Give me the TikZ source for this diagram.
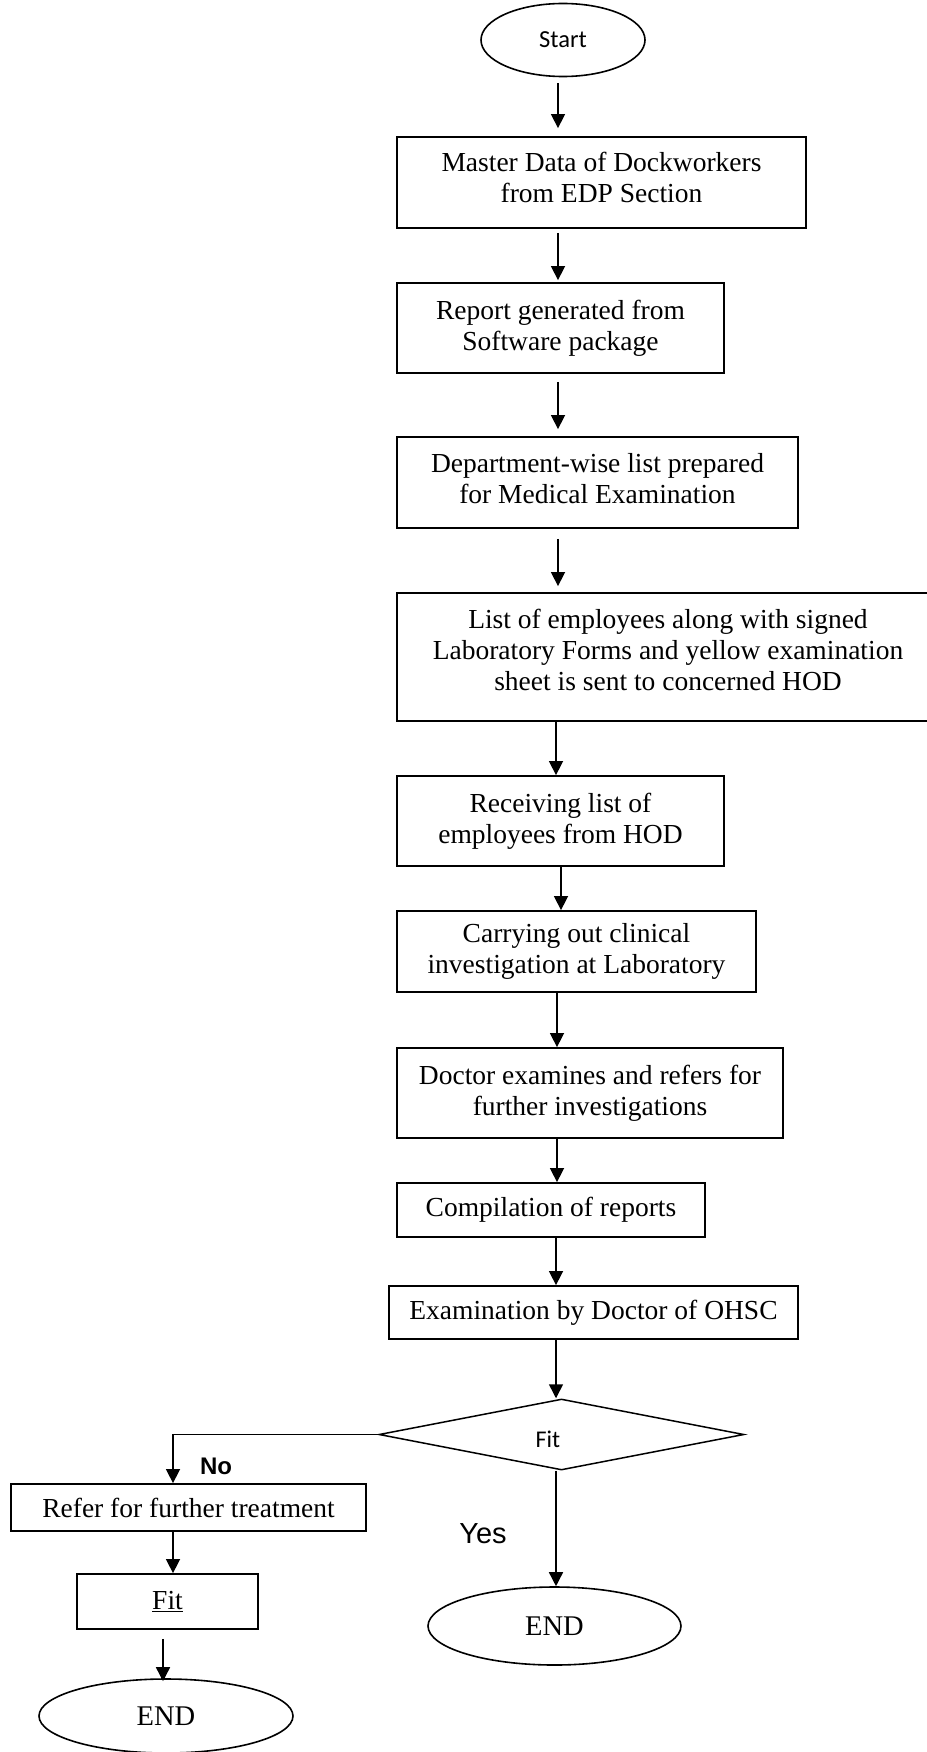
\documentclass[tikz,border=0pt]{standalone}
\usepackage{fontspec}
\usetikzlibrary{shapes.geometric,arrows.meta}
\newfontfamily\calibfont{Carlito}
\newfontfamily\arialfont{Liberation Sans}
\newfontfamily\boxfont{Liberation Serif}
\begin{document}
\begin{tikzpicture}[x=1pt,y=-1pt,
  stepbox/.style={draw, rectangle, line width=1.8pt, inner sep=0pt, align=center,
    font=\boxfont\fontsize{27.5}{31}\selectfont},
  term/.style={draw, ellipse, line width=1.6pt, inner sep=0pt},
  arr/.style={-{Triangle[length=14pt,width=14pt]}, line width=1.5pt},
  lbl/.style={inner sep=0pt}]
\useasboundingbox (0,0) rectangle (926,1752);

% helper columns for the connectors
\coordinate (col) at (558,0);
\coordinate (lc1) at (173,0);
\coordinate (lc2) at (163,0);

% terminals
\node[term, minimum width=164pt, minimum height=73pt, font=\calibfont\fontsize{24.5}{28}\selectfont] (start) at (563,40) {Start};

% process boxes
\node[stepbox, minimum width=409pt, minimum height=91pt, text depth=10pt] (b1) at (601.5,182.5) {Master Data of Dockworkers\\from EDP Section};
\node[stepbox, minimum width=327pt, minimum height=90pt] (b2) at (560.5,328) {Report generated from\\Software package};
\node[stepbox, minimum width=401pt, minimum height=91pt, text depth=8pt] (b3) at (597.5,482.5) {Department-wise list prepared\\for Medical Examination};
\node[stepbox, minimum width=542pt, minimum height=128pt, text depth=14pt] (b4) at (668,657) {List of employees along with signed\\Laboratory Forms and yellow examination\\sheet is sent to concerned HOD};
\node[stepbox, minimum width=327pt, minimum height=90pt] (b5) at (560.5,821) {Receiving list of\\employees from HOD};
\node[stepbox, minimum width=359pt, minimum height=81pt] (b6) at (576.5,951.5) {Carrying out clinical\\investigation at Laboratory};
\node[stepbox, minimum width=386pt, minimum height=90pt] (b7) at (590,1093) {Doctor examines and refers for\\further investigations};
\node[stepbox, minimum width=308pt, minimum height=54pt] (b8) at (551,1210) {Compilation of reports};
\node[stepbox, minimum width=409pt, minimum height=53pt] (b9) at (593.5,1312.5) {Examination by Doctor of OHSC};

% decision
\node[draw, diamond, line width=1.5pt, minimum width=365pt, minimum height=71pt, inner sep=0pt] (dec) at (561.5,1434.5) {};
\node[lbl, font=\calibfont\fontsize{24}{28}\selectfont] (dectext) at (548,1439) {Fit};

% outcomes
\node[term, minimum width=253pt, minimum height=78pt, font=\boxfont\fontsize{28.5}{30}\selectfont] (endR) at (554.5,1626) {END};
\node[stepbox, minimum width=355pt, minimum height=47pt] (refer) at (188.5,1507.5) {Refer for further treatment};
\node[stepbox, minimum width=181pt, minimum height=55pt] (fitbox) at (167.5,1601.5) {\underline{Fit}};
\node[term, minimum width=254pt, minimum height=74pt, font=\boxfont\fontsize{28.5}{30}\selectfont] (endL) at (166,1716) {END};

% branch labels
\node[lbl, font=\arialfont\bfseries\fontsize{24}{28}\selectfont] (nolbl) at (216,1466) {No};
\node[lbl, font=\arialfont\fontsize{29}{33}\selectfont] (yeslbl) at (483,1534) {Yes};

% main flow
\draw[arr, shorten <=6pt, shorten >=8pt] (start.south -| col) -- (b1.north -| col);
\draw[arr, shorten <=4pt, shorten >=2pt] (b1.south -| col) -- (b2.north -| col);
\draw[arr, shorten <=8pt, shorten >=7pt] (b2.south -| col) -- (b3.north -| col);
\draw[arr, shorten <=10pt, shorten >=6pt] (b3.south -| col) -- (b4.north -| col);
\draw[arr] ([xshift=-2pt]b4.south -| col) -- ([xshift=-2pt]b5.north -| col);
\draw[arr] ([xshift=3pt]b5.south -| col) -- ([xshift=3pt]b6.north -| col);
\draw[arr] ([xshift=-1pt]b6.south -| col) -- ([xshift=-1pt]b7.north -| col);
\draw[arr] ([xshift=-1pt]b7.south -| col) -- ([xshift=-1pt]b8.north -| col);
\draw[arr] ([xshift=-2pt]b8.south -| col) -- ([xshift=-2pt]b9.north -| col);
\draw[arr] ([xshift=-2pt]b9.south -| col) -- ([xshift=-2pt]dec.north -| col);

% branches
\draw[arr] ([xshift=-2pt]dec.south -| col) -- ([xshift=-2pt]endR.north -| col);
\draw[arr] (dec.west) -| (refer.north -| lc1);
\draw[arr] (refer.south -| lc1) -- (fitbox.north -| lc1);
\draw[arr, shorten <=9pt, shorten >=-3pt] (fitbox.south -| lc2) -- (endL.north -| lc2);
\end{tikzpicture}
\end{document}
